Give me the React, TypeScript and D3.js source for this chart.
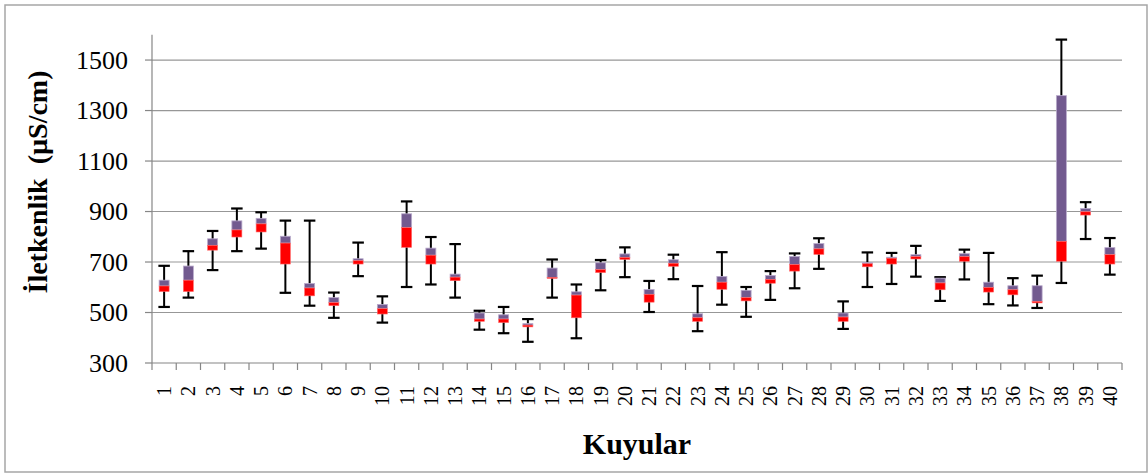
import { scaleBand, scaleLinear } from "d3";

const wells = Array.from({ length: 40 }, (_, i) => String(i + 1));

const mins = [522, 559, 668, 743, 753, 578, 527, 479, 644, 460, 601, 611, 559, 432, 418, 384, 559, 398, 588, 640, 502, 632, 426, 531, 483, 550, 596, 673, 435, 601, 613, 642, 546, 631, 533, 528, 518, 617, 791, 650];
const q1s = [583, 583, 747, 799, 819, 692, 566, 527, 692, 494, 758, 692, 626, 465, 460, 443, 635, 479, 658, 710, 541, 683, 465, 592, 546, 616, 664, 730, 465, 681, 692, 712, 590, 703, 581, 570, 538, 703, 886, 692];
const medians = [605, 628, 766, 827, 851, 775, 597, 539, 705, 515, 836, 727, 640, 474, 474, 450, 639, 569, 670, 718, 572, 695, 479, 620, 559, 631, 690, 752, 482, 693, 715, 721, 617, 721, 599, 590, 544, 782, 899, 729];
const q3s = [628, 684, 792, 863, 873, 802, 615, 559, 713, 532, 891, 755, 652, 498, 491, 456, 676, 582, 697, 732, 591, 709, 495, 643, 588, 647, 722, 773, 498, 698, 719, 729, 636, 733, 620, 606, 606, 1359, 912, 757];
const maxs = [685, 743, 823, 912, 897, 864, 864, 579, 777, 564, 940, 799, 771, 507, 522, 474, 710, 611, 708, 758, 625, 729, 605, 739, 601, 664, 734, 794, 544, 738, 736, 764, 640, 749, 736, 636, 646, 1581, 937, 795];

const yTicks = [300, 500, 700, 900, 1100, 1300, 1500];

const font = "'Liberation Serif', 'Times New Roman', serif";
const axisColor = "#868686";

export default function App() {
  const left = 152;
  const right = 1122;
  const top = 34.8;
  const bottom = 363;

  const x = scaleBand().domain(wells).range([left, right]);
  const y = scaleLinear().domain([300, 1600]).range([bottom, top]);
  const boxW = 10;
  const capW = 11.5;

  return (
    <svg
      width={1148}
      height={473}
      style={{ position: "absolute", left: 0, top: 0, background: "#fff" }}
    >
      <rect x={5} y={5} width={1142} height={467} fill="#fff" stroke="#a6a6a6" strokeWidth={1.5} />

      {/* gridlines */}
      {yTicks.slice(1).map((t) => (
        <line key={`g${t}`} x1={left} x2={right} y1={y(t)} y2={y(t)} stroke="#979797" strokeWidth={1.2} />
      ))}

      {/* y axis */}
      <line x1={left} x2={left} y1={top} y2={bottom} stroke={axisColor} strokeWidth={1.2} />
      {yTicks.map((t) => (
        <g key={`yt${t}`}>
          <line x1={left - 7} x2={left} y1={y(t)} y2={y(t)} stroke={axisColor} strokeWidth={1.2} />
          <text
            x={128}
            y={y(t)}
            textAnchor="end"
            dominantBaseline="central"
            fontFamily={font}
            fontSize={26}
            fill="#000"
          >
            {t}
          </text>
        </g>
      ))}

      {/* x axis */}
      <line x1={left} x2={right} y1={bottom} y2={bottom} stroke={axisColor} strokeWidth={1.2} />
      {[...wells.map((w) => x(w) as number), right].map((px, i) => (
        <line key={`xt${i}`} x1={px} x2={px} y1={bottom} y2={bottom + 7} stroke={axisColor} strokeWidth={1.2} />
      ))}
      {wells.map((w) => {
        const cx = (x(w) as number) + x.bandwidth() / 2;
        return (
          <text
            key={`xl${w}`}
            transform={`translate(${cx},386) rotate(-90)`}
            textAnchor="end"
            dominantBaseline="central"
            fontFamily={font}
            fontSize={20}
            fill="#000"
          >
            {w}
          </text>
        );
      })}

      {/* boxes */}
      {wells.map((w, i) => {
        const cx = (x(w) as number) + x.bandwidth() / 2;
        return (
          <g key={`b${w}`}>
            <line x1={cx} x2={cx} y1={y(maxs[i])} y2={y(mins[i])} stroke="#000" strokeWidth={2} />
            <line x1={cx - capW / 2} x2={cx + capW / 2} y1={y(maxs[i])} y2={y(maxs[i])} stroke="#000" strokeWidth={2.2} />
            <line x1={cx - capW / 2} x2={cx + capW / 2} y1={y(mins[i])} y2={y(mins[i])} stroke="#000" strokeWidth={2.2} />
            <rect
              x={cx - boxW / 2}
              y={y(q3s[i])}
              width={boxW}
              height={y(medians[i]) - y(q3s[i])}
              fill="#725a8f"
              stroke="#b9aacb"
              strokeWidth={0.8}
            />
            <rect
              x={cx - boxW / 2}
              y={y(medians[i])}
              width={boxW}
              height={y(q1s[i]) - y(medians[i])}
              fill="#ff0000"
              stroke="#ff6b6b"
              strokeWidth={0.6}
            />
          </g>
        );
      })}

      {/* axis titles */}
      <text
        transform={`translate(47,182) rotate(-90)`}
        textAnchor="middle"
        fontFamily={font}
        fontWeight="bold"
        fontSize={28}
        fill="#000"
        style={{ whiteSpace: "pre" }}
      >
        {"İletkenlik  (µS/cm)"}
      </text>
      <text
        x={(left + right) / 2}
        y={454}
        textAnchor="middle"
        fontFamily={font}
        fontWeight="bold"
        fontSize={30}
        fill="#000"
      >
        Kuyular
      </text>
    </svg>
  );
}
